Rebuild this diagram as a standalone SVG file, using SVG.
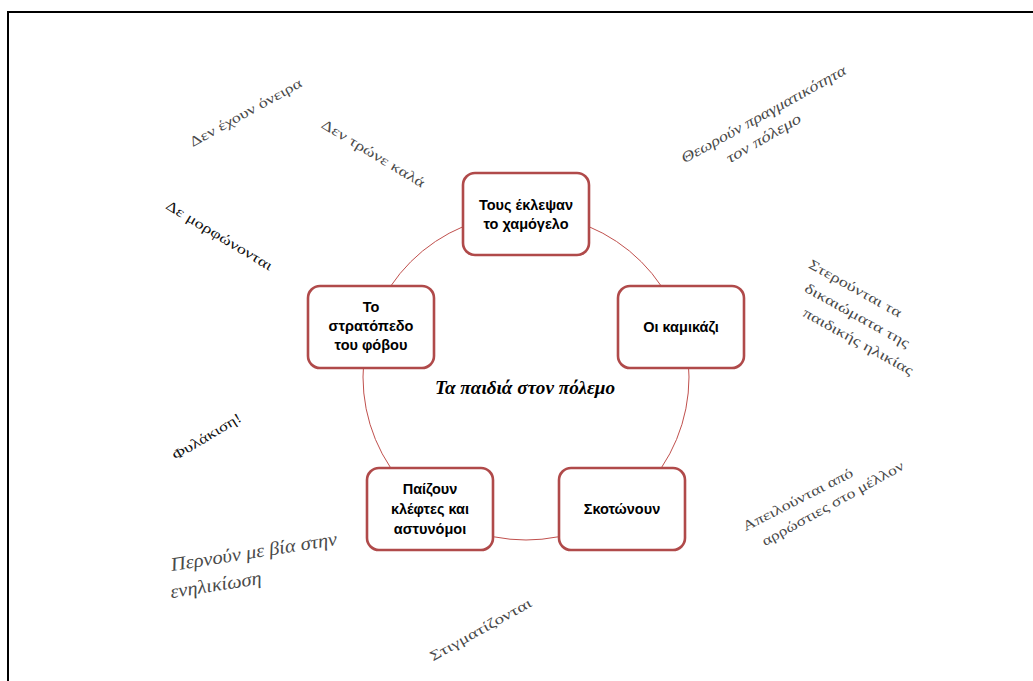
<svg xmlns="http://www.w3.org/2000/svg" width="1033" height="681" viewBox="0 0 1033 681">
<style>
.frame{fill:none;stroke:#000;stroke-width:2}
.ring{fill:none;stroke:#c0504d;stroke-width:1}
.box{fill:#fff;stroke:#b04a4a;stroke-width:2.6}
.nt{font-family:"Liberation Sans",Arial,sans-serif;font-weight:bold;font-size:14.5px;fill:#000;text-anchor:middle}
.title{font-family:"Liberation Serif","Times New Roman",serif;font-style:italic;font-weight:bold;font-size:19px;fill:#000;text-anchor:middle}
.g{font-family:"Liberation Serif","Times New Roman",serif;font-size:14px;fill:#4a4a4a;text-anchor:middle}
.gi{font-family:"Liberation Serif","Times New Roman",serif;font-style:italic;font-size:15px;fill:#4a4a4a;text-anchor:middle}
.gb{font-family:"Liberation Serif","Times New Roman",serif;font-size:14px;fill:#111;text-anchor:middle}
.gl{font-family:"Liberation Serif","Times New Roman",serif;font-style:italic;font-size:19px;fill:#4a4a4a;text-anchor:middle}
</style>
<rect width="1033" height="681" fill="#fff"/>
<path class="frame" d="M8 681 V12 H1033"/>
<g id="connectors">
<circle class="ring" cx="526" cy="377" r="163"/>
</g>
<g id="node-top">
<rect class="box" x="463" y="173" width="126" height="82" rx="12"/>
<text class="nt" x="526" y="210">Τους έκλεψαν</text>
<text class="nt" x="526" y="229">το χαμόγελο</text>
</g>
<g id="node-right">
<rect class="box" x="618" y="286" width="126" height="82" rx="12"/>
<text class="nt" x="681" y="332">Οι καμικάζι</text>
</g>
<g id="node-bottom-right">
<rect class="box" x="559" y="468" width="126" height="82" rx="12"/>
<text class="nt" x="622" y="514">Σκοτώνουν</text>
</g>
<g id="node-bottom-left">
<rect class="box" x="367" y="468" width="126" height="82" rx="12"/>
<text class="nt" x="430" y="494">Παίζουν</text>
<text class="nt" x="430" y="514">κλέφτες και</text>
<text class="nt" x="430" y="534">αστυνόμοι</text>
</g>
<g id="node-left">
<rect class="box" x="308" y="286" width="126" height="82" rx="12"/>
<text class="nt" x="371" y="312">Το</text>
<text class="nt" x="371" y="331">στρατόπεδο</text>
<text class="nt" x="371" y="350">του φόβου</text>
</g>
<g id="center-title">
<text class="title" x="525" y="394" textLength="180" lengthAdjust="spacingAndGlyphs">Τα παιδιά στον πόλεμο</text>
</g>
<g id="labels">
<text class="g" transform="translate(246,113) rotate(-29)" x="0" y="4" textLength="126" lengthAdjust="spacingAndGlyphs">Δεν έχουν όνειρα</text>
<text class="g" transform="translate(373,154) rotate(31)" x="0" y="4" textLength="118" lengthAdjust="spacingAndGlyphs">Δεν τρώνε καλά</text>
<text class="gb" transform="translate(219,236) rotate(31)" x="0" y="4" textLength="122" lengthAdjust="spacingAndGlyphs">Δε μορφώνονται</text>
<text class="gi" transform="translate(764,115) rotate(-29)" x="0" y="4" textLength="186" lengthAdjust="spacingAndGlyphs">Θεωρούν πραγματικότητα</text>
<text class="gi" transform="translate(764,139) rotate(-30)" x="0" y="4" textLength="84" lengthAdjust="spacingAndGlyphs">τον πόλεμο</text>
<text class="g" transform="translate(855,289) rotate(29)" x="0" y="4" textLength="104" lengthAdjust="spacingAndGlyphs">Στερούνται τα</text>
<text class="g" transform="translate(857,316) rotate(29)" x="0" y="4" textLength="118" lengthAdjust="spacingAndGlyphs">δικαιώματα της</text>
<text class="g" transform="translate(858,342) rotate(29)" x="0" y="4" textLength="124" lengthAdjust="spacingAndGlyphs">παιδικής ηλικίας</text>
<text class="g" transform="translate(798,500) rotate(-27)" x="0" y="4" textLength="122" lengthAdjust="spacingAndGlyphs">Απειλούνται από</text>
<text class="g" transform="translate(833,504) rotate(-29)" x="0" y="4" textLength="160" lengthAdjust="spacingAndGlyphs">αρρώστιες στο μέλλον</text>
<text class="gb" transform="translate(207,437) rotate(-31)" x="0" y="4" textLength="78" lengthAdjust="spacingAndGlyphs">Φυλάκιση!</text>
<text class="gl" transform="translate(254,553) rotate(-9)" x="0" y="5" textLength="168" lengthAdjust="spacingAndGlyphs">Περνούν με βία στην</text>
<text class="gl" transform="translate(216,586) rotate(-9)" x="0" y="5" textLength="92" lengthAdjust="spacingAndGlyphs">ενηλικίωση</text>
<text class="g" transform="translate(481,630) rotate(-29)" x="0" y="4" textLength="114" lengthAdjust="spacingAndGlyphs">Στιγματίζονται</text>
</g>
</svg>
